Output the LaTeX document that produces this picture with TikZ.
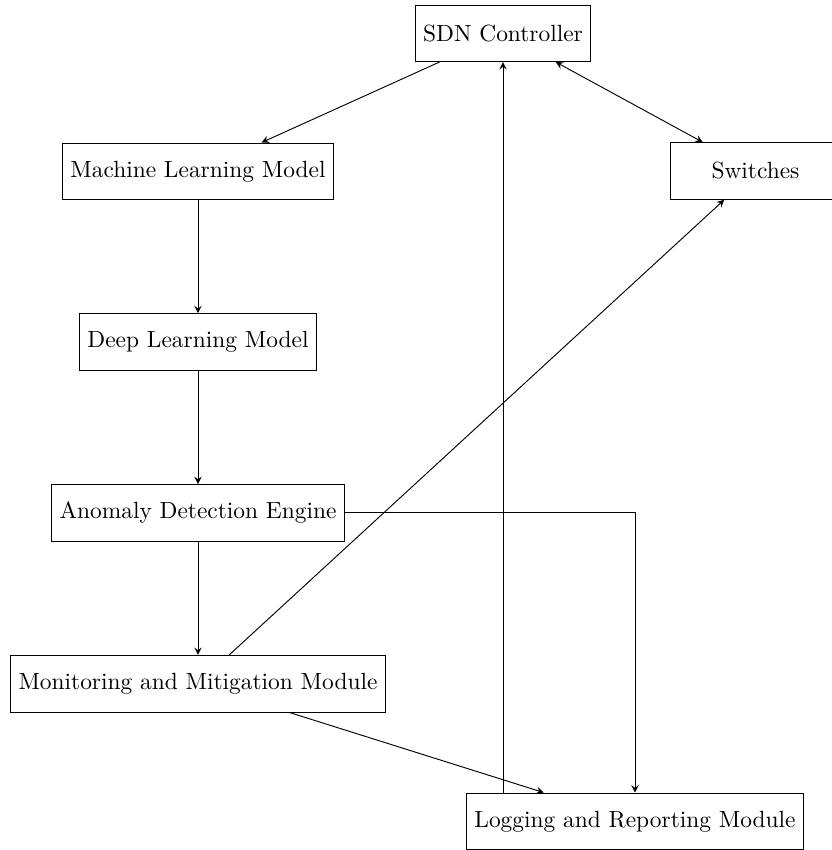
\documentclass[tikz,border=0pt]{standalone}
\usetikzlibrary{arrows.meta}
\begin{document}
\begin{tikzpicture}[x=0.4274pt,y=-0.4274pt, >=stealth,
  box/.style={draw, minimum height=24.2pt, inner sep=0.3333em, align=center},
  conn/.style={->}]
\useasboundingbox (0,0) rectangle (831,850);
\node[box] (sdn) at (503,33.3) {SDN Controller};
\node[box] (ml) at (198,171.3) {Machine Learning Model};
\node[box, minimum width=72.5pt] (sw) at (755.5,171) {Switches};
\node[box] (dl) at (198,342) {Deep Learning Model};
\node[box] (ad) at (198,512.8) {Anomaly Detection Engine};
\node[box] (mm) at (198,683.7) {Monitoring and Mitigation Module};
\node[box] (lr) at (635,821.3) {Logging and Reporting Module};

\draw[conn] (sdn) -- (ml);
\draw[<->] (sdn) -- (sw);
\draw[conn] (ml) -- (dl);
\draw[conn] (dl) -- (ad);
\draw[conn] (ad) -- (mm);
\draw[conn] (ad) -| (lr);
\draw[conn] (mm) -- (sw);
\draw[conn] (mm) -- (lr);
\draw[conn] (lr.north -| sdn.south) -- (sdn.south);
\end{tikzpicture}
\end{document}
